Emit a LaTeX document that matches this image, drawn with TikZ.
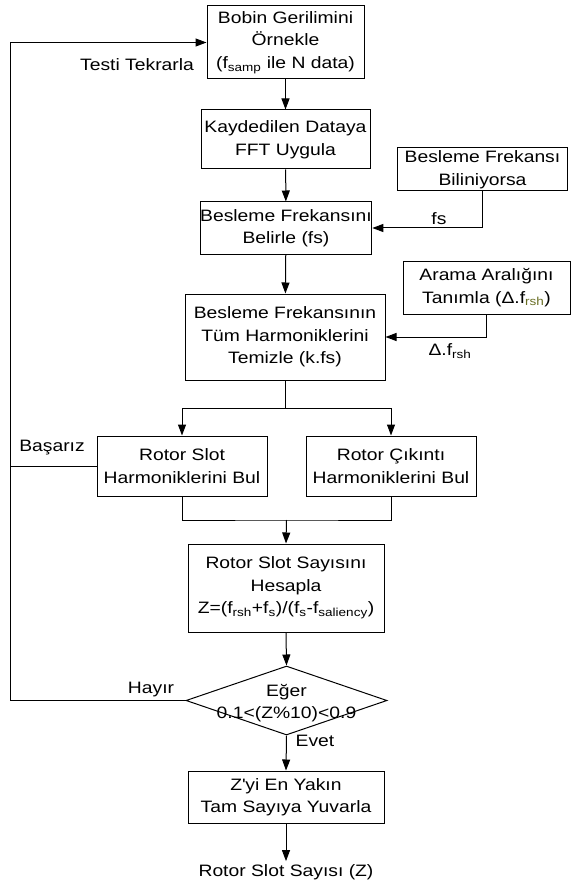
\documentclass[tikz,border=0pt]{standalone}
\usepackage{fontspec}
\setmainfont{Liberation Sans}[FakeStretch=1.17]
\definecolor{fcline}{RGB}{0,0,0}
\definecolor{fcolive}{RGB}{105,110,35}
\usetikzlibrary{arrows.meta,positioning,shapes.geometric,calc}

\begin{document}
\begin{tikzpicture}[
  x=1pt,y=-1pt,
  every node/.style={font=\fontsize{16.5}{22.5}\selectfont},
  procbox/.style={draw=fcline,line width=1pt,align=center,inner sep=0pt},
  decbox/.style={draw=fcline,line width=1pt,diamond,inner sep=0pt,
                 minimum width=201pt,minimum height=69pt},
  flow/.style={line width=1pt,fcline,-{Triangle[length=11pt,width=8pt]}},
  plain/.style={line width=1pt,fcline},
]
  \useasboundingbox (0,0) rectangle (571,885);

  % Main column
  \node[procbox,minimum width=157pt,minimum height=73pt] (ornek) at (285.5,42.5)
    {Bobin Gerilimini\\Örnekle\\(f\textsubscript{samp} ile N data)};
  \node[procbox,minimum width=169pt,minimum height=59pt] (fft) at (285.5,139.5)
    {Kaydedilen Dataya\\FFT Uygula};
  \node[procbox,minimum width=170pt,minimum height=52pt] (belirle) at (286,228)
    {Besleme Frekansını\\Belirle (fs)};
  \node[procbox,minimum width=200pt,minimum height=86pt] (temizle) at (285,337)
    {Besleme Frekansının\\Tüm Harmoniklerini\\Temizle (k.fs)};

  % Side inputs
  \node[procbox,minimum width=170pt,minimum height=43pt] (bilin) at (482.5,169.5)
    {Besleme Frekansı\\Biliniyorsa};
  \node[procbox,minimum width=167pt,minimum height=53pt] (aralik) at (486.5,287.5)
    {Arama Aralığını\\Tanımla (Δ.f\textsubscript{\color{fcolive}rsh})};

  % Harmonic search
  \node[procbox,minimum width=170pt,minimum height=60pt] (rslot) at (182,466)
    {Rotor Slot\\Harmoniklerini Bul};
  \node[procbox,minimum width=170pt,minimum height=60pt] (rcik) at (391,466)
    {Rotor Çıkıntı\\Harmoniklerini Bul};

  \node[procbox,minimum width=196pt,minimum height=88pt] (hesap) at (286,588)
    {Rotor Slot Sayısını\\Hesapla\\Z=(f\textsubscript{rsh}+f\textsubscript{s})/(f\textsubscript{s}-f\textsubscript{saliency})};

  % Decision
  \node[decbox] (karar) at (286.5,700.5) {};
  \node[align=center,inner sep=0pt] (kararyazi) at (286.5,703)
    {Eğer\\0.1<(Z\%10)<0.9};

  \node[procbox,minimum width=196pt,minimum height=52pt] (yuvarla) at (286,797)
    {Z\textquotesingle yi En Yakın\\Tam Sayıya Yuvarla};
  \node[inner sep=3pt] (sonuc) at (286,872) {Rotor Slot Sayısı (Z)};

  % Helper points
  \coordinate (sol) at (10,700.5);
  \coordinate (ayir) at (285,408);
  \coordinate (birles) at (286.5,520);

  % Connectors
  \draw[flow] (ornek) -- (fft);
  \draw[flow] (fft) -- (belirle);
  \draw[flow] (belirle) -- (temizle);
  \draw[flow] (bilin.south) |- (belirle.east);
  \draw[flow] (aralik.south) |- (temizle.east);
  \draw[plain] (temizle.south) -- (ayir);
  \draw[flow] (ayir) -| (rslot.north);
  \draw[flow] (ayir) -| (rcik.north);
  \draw[plain] (rslot.south) |- (birles) -| (rcik.south);
  \draw[flow] (birles) -- (hesap.north);
  \draw[flow] (hesap.south) -- (karar.north);
  \draw[flow] (karar.south) -- (yuvarla.north);
  \draw[flow] (yuvarla.south) -- (sonuc.north);
  \draw[flow] (karar.west) -- (sol) |- (ornek.west);
  \draw[plain] (rslot.west) -- (rslot.west -| sol);

  % Connector labels
  \node (lbltekrar) at (137,65) {Testi Tekrarla};
  \node (lblbasar) at (52,448) {Başarız};
  \node (lblhayir) at (151,690) {Hayır};
  \node (lblevet) at (315,741) {Evet};
  \node (lblfs) at (439,219) {fs};
  \node (lbldelta) at (450,351) {Δ.f\textsubscript{rsh}};
\end{tikzpicture}
\end{document}
